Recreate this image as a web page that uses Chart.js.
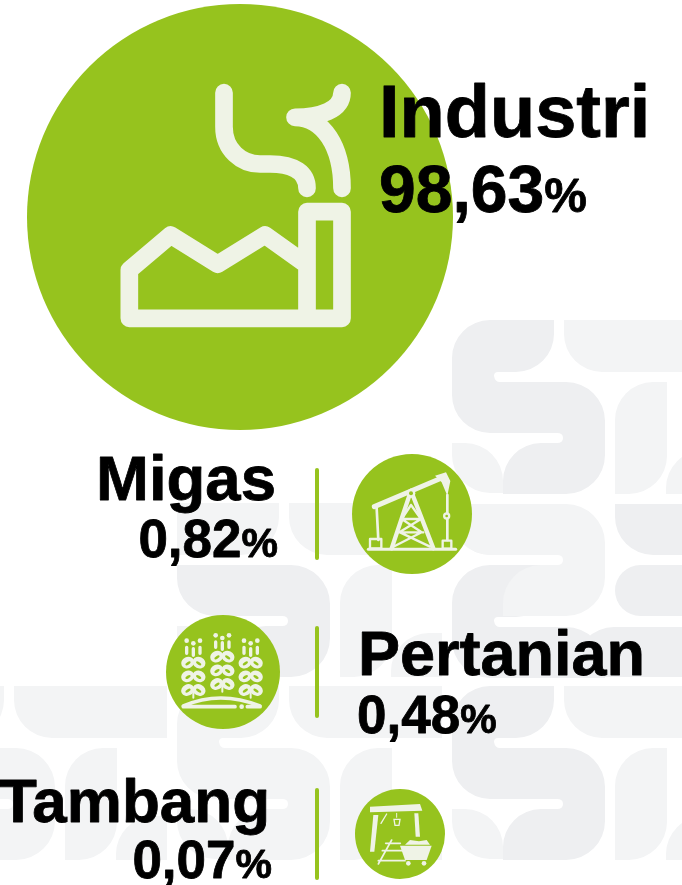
<!DOCTYPE html>
<html>
<head>
<meta charset="utf-8">
<style>
  html,body{margin:0;padding:0;background:#fff;overflow:hidden}
  canvas{display:block}
</style>
<script src="https://cdn.jsdelivr.net/npm/chart.js@4/dist/chart.umd.min.js"></script>
</head>
<body>
<canvas id="grafico" width="682" height="885"></canvas>
<script>
const sectors=['Industri','Migas','Pertanian','Tambang']
const shares=[98.63,0.82,0.48,0.07]

// where each bubble sits on the sheet, not data
const layout=[
  {x:240,y:217,r:213,align:'left',tx:379,nameY:137,nameSize:74,valY:212,valSize:66,pctSize:48,valX:379},
  {x:412,y:514,r:60,align:'right',tx:276,nameY:500,nameSize:63.5,valY:557,valSize:53,pctSize:41,valX:278},
  {x:223,y:672,r:57,align:'left',tx:358,nameY:675,nameSize:63,valY:733,valSize:53,pctSize:41,valX:357},
  {x:400,y:834,r:45,align:'right',tx:270,nameY:822,nameSize:62,valY:878,valSize:53,pctSize:41,valX:272}
]
const dividers=[[470,558],[628,716],[790,878]]
const GREEN='#96c31e'
const ICON='#eff3e6'
const TILE='#eeeff1'
const TILE2='#f3f4f5'

function sShape(ctx,ox,oy,color,clipTop,clipBottom){
  ctx.save()
  if(clipTop!=null){ctx.beginPath();ctx.rect(ox-5,clipTop,170,(clipBottom||1000)-clipTop);ctx.clip()}
  ctx.translate(ox,oy)
  ctx.fillStyle=color
  ctx.beginPath()
  ctx.moveTo(38,0)
  ctx.lineTo(102,0)
  ctx.lineTo(102,14)
  ctx.arcTo(102,52,64,52,38)
  ctx.lineTo(46,52)
  ctx.quadraticCurveTo(42,52,42,56)
  ctx.quadraticCurveTo(43,62,48,62)
  ctx.lineTo(114,62)
  ctx.arcTo(153,62,153,101,39)
  ctx.lineTo(153,135)
  ctx.arcTo(153,174,114,174,39)
  ctx.lineTo(51,174)
  ctx.lineTo(51,161)
  ctx.arcTo(51,123,89,123,38)
  ctx.lineTo(105,123)
  ctx.quadraticCurveTo(111,123,111,118)
  ctx.quadraticCurveTo(111,113,105,113)
  ctx.lineTo(38,113)
  ctx.arcTo(0,113,0,75,38)
  ctx.lineTo(0,38)
  ctx.arcTo(0,0,38,0,38)
  ctx.closePath()
  ctx.fill()
  ctx.restore()
}
function tile(ctx,x,y,w,h,radii,color){
  ctx.fillStyle=color
  ctx.beginPath()
  ctx.roundRect(x,y,w,h,radii)
  ctx.fill()
}
function rowTiles(ctx,ox,oy){
  tile(ctx,ox,oy+123,51,50,[0,38,0,38],TILE2)
  tile(ctx,ox+112,oy,153,52,[0,0,0,38],TILE2)
  tile(ctx,ox+163,oy+62,52,112,[38,0,38,0],TILE2)
  tile(ctx,ox+214,oy+130,51,44,[38,0,0,0],TILE2)
}

const fundo={
  id:'fundo',
  beforeDatasetsDraw(chart){
    const {ctx}=chart
    ctx.save()
    sShape(ctx,452,320,TILE)
    rowTiles(ctx,452,320)
    tile(ctx,177,503,102,52,[0,0,38,0],TILE2)
    rowTiles(ctx,177,503)
    sShape(ctx,177,503,TILE,565)
    sShape(ctx,452,565,TILE,565,678)
    sShape(ctx,452,442,TILE2,504)
    tile(ctx,452,504,51,51,[0,38,0,38],TILE2)
    tile(ctx,615,504,80,51,[0,0,0,38],TILE)
    tile(ctx,615,565,80,51,[38,0,0,38],TILE)
    tile(ctx,576,627,110,50,[38,0,0,0],TILE)
    sShape(ctx,452,686,TILE)
    rowTiles(ctx,452,686)
    sShape(ctx,177,686,TILE2)
    rowTiles(ctx,177,686)
    sShape(ctx,-98,686,TILE2)
    rowTiles(ctx,-98,686)
    ctx.restore()
  }
}

function fabrica(ctx){
  ctx.save()
  ctx.translate(100,60)
  ctx.scale(1/3,1/3)
  ctx.strokeStyle=ICON
  ctx.lineWidth=53
  ctx.lineCap='round'
  ctx.lineJoin='round'
  ctx.beginPath()
  ctx.moveTo(88,630)
  ctx.lineTo(212,525)
  ctx.lineTo(353,613)
  ctx.lineTo(495,525)
  ctx.lineTo(621,615)
  ctx.moveTo(88,630)
  ctx.lineTo(88,775)
  ctx.lineTo(726,775)
  ctx.lineTo(726,455)
  ctx.lineTo(621,455)
  ctx.lineTo(621,775)
  ctx.stroke()
  ctx.beginPath()
  ctx.moveTo(372,98)
  ctx.lineTo(372,200)
  ctx.bezierCurveTo(372,270,425,312,480,312)
  ctx.lineTo(510,312)
  ctx.bezierCurveTo(585,312,621,340,621,385)
  ctx.moveTo(726,98)
  ctx.bezierCurveTo(726,150,660,172,585,172)
  ctx.bezierCurveTo(670,172,726,260,726,385)
  ctx.stroke()
  ctx.restore()
}
function linhas(ctx,list,w){
  ctx.lineWidth=w
  ctx.beginPath()
  list.forEach(p=>{ctx.moveTo(p[0],p[1]);ctx.lineTo(p[2],p[3])})
  ctx.stroke()
}
function bomba(ctx){
  ctx.save()
  ctx.translate(340,445)
  ctx.scale(1/3,1/3)
  ctx.strokeStyle=ICON
  ctx.fillStyle=ICON
  ctx.lineJoin='round'
  linhas(ctx,[[85,313,347,313]],9)
  linhas(ctx,[[103,185,298,102]],15)
  linhas(ctx,[[213,137,155,310],[213,137,280,310]],13)
  linhas(ctx,[[185,222,243,222],[178,262,250,262],[160,305,245,262],[270,305,180,262],[213,180,185,222],[213,180,243,222],[185,222,245,262],[243,222,178,262]],7)
  linhas(ctx,[[110,190,115,285],[322,150,322,285]],8)
  ctx.lineWidth=7
  ctx.strokeRect(90,282,34,28)
  ctx.strokeRect(308,287,26,24)
  ctx.beginPath()
  ctx.moveTo(285,92)
  ctx.lineTo(318,82)
  ctx.lineTo(331,108)
  ctx.lineTo(322,152)
  ctx.lineTo(305,112)
  ctx.closePath()
  ctx.fill()
  ctx.beginPath()
  ctx.arc(213,145,13,0,Math.PI*2)
  ctx.fill()
  ctx.fillStyle=GREEN
  ctx.beginPath()
  ctx.arc(213,145,6,0,Math.PI*2)
  ctx.fill()
  ctx.fillStyle=ICON
  ctx.beginPath()
  ctx.arc(320,213,11,0,Math.PI*2)
  ctx.fill()
  ctx.fillStyle=GREEN
  ctx.beginPath()
  ctx.arc(320,213,4,0,Math.PI*2)
  ctx.fill()
  ctx.restore()
}
function folha(ctx,x,y,side){
  ctx.fillStyle=ICON
  ctx.beginPath()
  ctx.ellipse(x+side*17,y,20,17,side*0.45,0,Math.PI*2)
  ctx.fill()
  ctx.fillStyle=GREEN
  ctx.beginPath()
  ctx.ellipse(x+side*16,y+2,9,4,side*0.55,0,Math.PI*2)
  ctx.fill()
}
function trigo(ctx){
  ctx.save()
  ctx.translate(160,610)
  ctx.scale(1/3,1/3)
  ctx.strokeStyle=ICON
  ctx.fillStyle=ICON
  ctx.lineCap='round'
  const hastes=[[100,158,92],[187,140,76],[272,158,92]]
  hastes.forEach(h=>{
    const [x,y0,top]=h
    for(let i=0;i<3;i++){
      folha(ctx,x,y0+i*41,-1)
      folha(ctx,x,y0+i*41,1)
    }
    linhas(ctx,[[x,y0-42,x,y0-22],[x-20,top+20,x-20,y0-28],[x+20,top+20,x+20,y0-28]],10)
    ctx.fillStyle=ICON
    ;[[x-20,top],[x,top+8],[x+20,top]].forEach(d=>{
      ctx.beginPath();ctx.arc(d[0],d[1],7,0,Math.PI*2);ctx.fill()
    })
    linhas(ctx,[[x,y0+82,x,y0+105]],6)
  })
  ctx.lineWidth=11
  ctx.beginPath()
  ctx.moveTo(70,288)
  ctx.quadraticCurveTo(180,240,300,288)
  ctx.stroke()
  linhas(ctx,[[70,290,225,290],[262,290,300,290]],11)
  ctx.beginPath();ctx.arc(245,290,7,0,Math.PI*2);ctx.fill()
  ctx.restore()
}
function poligono(ctx,pts){
  ctx.beginPath()
  pts.forEach((p,i)=>i?ctx.lineTo(p[0],p[1]):ctx.moveTo(p[0],p[1]))
  ctx.closePath()
  ctx.fill()
}
function tambang(ctx){
  ctx.save()
  ctx.translate(345,780)
  ctx.scale(1/3,1/3)
  ctx.strokeStyle=ICON
  ctx.fillStyle=ICON
  poligono(ctx,[[75,80],[225,72],[232,92],[75,97]])
  poligono(ctx,[[85,105],[100,105],[88,215],[75,215]])
  poligono(ctx,[[208,100],[220,100],[225,170],[212,170]])
  linhas(ctx,[[108,130,125,102]],4)
  linhas(ctx,[[155,100,155,112]],3)
  ctx.lineWidth=4
  ctx.beginPath()
  ctx.moveTo(147,118);ctx.lineTo(165,118);ctx.lineTo(162,136);ctx.lineTo(150,136);ctx.closePath()
  ctx.stroke()
  linhas(ctx,[[100,252,140,180],[122,190,166,190],[112,212,172,212],[100,242,180,242]],5)
  poligono(ctx,[[165,197],[260,197],[245,240],[180,240]])
  poligono(ctx,[[180,194],[195,180],[222,184],[245,180],[255,194]])
  ctx.beginPath();ctx.arc(190,250,7,0,Math.PI*2);ctx.fill()
  ctx.beginPath();ctx.arc(237,250,7,0,Math.PI*2);ctx.fill()
  ctx.restore()
}
const icones=[fabrica,bomba,trigo,tambang]

const rotulos={
  id:'rotulos',
  afterDatasetsDraw(chart){
    const {ctx}=chart
    ctx.save()
    ctx.lineCap='round'
    ctx.strokeStyle=GREEN
    ctx.lineWidth=4
    dividers.forEach(d=>{
      ctx.beginPath();ctx.moveTo(317,d[0]);ctx.lineTo(317,d[1]);ctx.stroke()
    })
    icones.forEach(f=>f(ctx))
    ctx.fillStyle='#000'
    ctx.strokeStyle='#000'
    ctx.lineWidth=0.8
    ctx.lineJoin='round'
    ctx.textBaseline='alphabetic'
    const tinta=(t,x,y)=>{ctx.fillText(t,x,y);ctx.strokeText(t,x,y)}
    sectors.forEach((name,i)=>{
      const l=layout[i]
      ctx.textAlign=l.align
      ctx.font=`bold ${l.nameSize}px "Liberation Sans"`
      tinta(name,l.tx,l.nameY)
      const num=shares[i].toFixed(2).replace('.',',')
      ctx.font=`bold ${l.pctSize}px "Liberation Sans"`
      const pw=ctx.measureText('%').width
      ctx.font=`bold ${l.valSize}px "Liberation Sans"`
      const nw=ctx.measureText(num).width
      const x0=l.align==='left'?l.valX:l.valX-nw-pw
      ctx.textAlign='left'
      tinta(num,x0,l.valY)
      ctx.font=`bold ${l.pctSize}px "Liberation Sans"`
      tinta('%',x0+nw,l.valY)
    })
    ctx.restore()
  }
}

new Chart(document.getElementById('grafico'),{
  type:'bubble',
  data:{
    labels:sectors,
    datasets:[{
      data:shares.map((v,i)=>({x:layout[i].x,y:layout[i].y,r:layout[i].r,share:v})),
      backgroundColor:GREEN,
      borderWidth:0,
      hoverRadius:0,
      clip:false
    }]
  },
  options:{
    responsive:false,
    animation:false,
    layout:{padding:0,autoPadding:false},
    plugins:{legend:{display:false},tooltip:{enabled:false}},
    scales:{
      x:{type:'linear',display:false,min:0,max:682},
      y:{type:'linear',display:false,min:0,max:885,reverse:true}
    }
  },
  plugins:[fundo,rotulos]
})
</script>
</body>
</html>
